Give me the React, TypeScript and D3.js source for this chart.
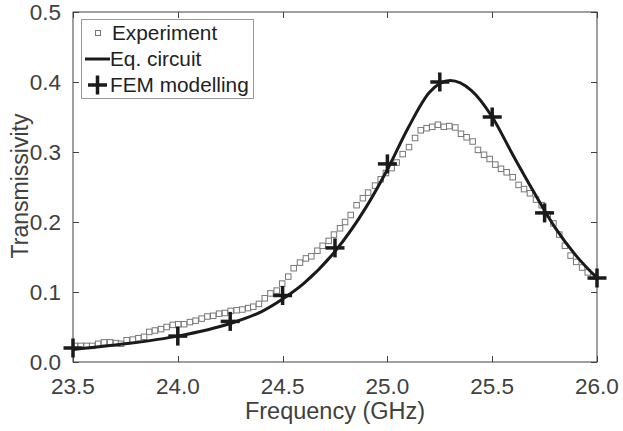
import React, { useEffect, useRef } from "react";
import * as d3 from "d3";

const expFreq = [
  23.510, 23.537, 23.565, 23.592, 23.620, 23.648, 23.677, 23.705, 23.729, 23.756,
  23.785, 23.812, 23.839, 23.864, 23.891, 23.920, 23.947, 23.976, 24.002, 24.030,
  24.058, 24.085, 24.114, 24.141, 24.169, 24.197, 24.225, 24.252, 24.281, 24.308,
  24.336, 24.360, 24.387, 24.415, 24.442, 24.472, 24.498, 24.527, 24.553, 24.583,
  24.611, 24.637, 24.666, 24.691, 24.720, 24.745, 24.774, 24.798, 24.825, 24.853,
  24.883, 24.908, 24.941, 24.968, 24.993, 25.020, 25.044, 25.073, 25.103, 25.132,
  25.159, 25.187, 25.214, 25.241, 25.269, 25.295, 25.324, 25.351, 25.378, 25.407,
  25.432, 25.461, 25.488, 25.515, 25.542, 25.569, 25.598, 25.626, 25.652, 25.680,
  25.709, 25.736, 25.765, 25.792, 25.820, 25.847, 25.874, 25.901, 25.929, 25.956,
  25.983,
];
const expVal = [
  0.023, 0.023, 0.023, 0.023, 0.026, 0.028, 0.028, 0.027, 0.026, 0.031,
  0.032, 0.034, 0.036, 0.043, 0.045, 0.047, 0.050, 0.053, 0.054, 0.054,
  0.057, 0.059, 0.062, 0.065, 0.066, 0.069, 0.070, 0.073, 0.074, 0.075,
  0.077, 0.079, 0.083, 0.091, 0.098, 0.102, 0.112, 0.122, 0.134, 0.142,
  0.148, 0.151, 0.159, 0.166, 0.173, 0.182, 0.191, 0.200, 0.210, 0.224,
  0.234, 0.242, 0.252, 0.261, 0.270, 0.277, 0.285, 0.297, 0.307, 0.320,
  0.331, 0.334, 0.336, 0.339, 0.336, 0.337, 0.335, 0.326, 0.321, 0.315,
  0.303, 0.296, 0.290, 0.282, 0.276, 0.271, 0.264, 0.253, 0.247, 0.241,
  0.232, 0.224, 0.211, 0.198, 0.182, 0.166, 0.152, 0.143, 0.135, 0.128,
  0.122,
];

const circFreq = [23.5, 23.75, 24.0, 24.25, 24.4, 24.5, 24.6, 24.75, 24.9, 25.0, 25.1, 25.2, 25.3, 25.4, 25.5, 25.6, 25.7, 25.8, 25.9, 26.0];
const circVal = [0.018, 0.026, 0.037, 0.055, 0.072, 0.090, 0.112, 0.158, 0.222, 0.275, 0.335, 0.385, 0.402, 0.388, 0.350, 0.295, 0.242, 0.192, 0.152, 0.120];

const femFreq = [23.5, 24.0, 24.25, 24.5, 24.75, 25.0, 25.25, 25.5, 25.75, 26.0];
const femVal = [0.020, 0.037, 0.058, 0.095, 0.163, 0.283, 0.400, 0.350, 0.213, 0.120];

const xTicks = [23.5, 24.0, 24.5, 25.0, 25.5, 26.0];
const yTicks = [0.0, 0.1, 0.2, 0.3, 0.4, 0.5];

const legendLabels = ["Experiment", "Eq. circuit", "FEM modelling"];

const W = 623;
const H = 431;
const M = { left: 73, right: 597, top: 12, bottom: 362 };
const TXT = "#404040";
const FONT = "'Liberation Sans', Arial, Helvetica, sans-serif";

export default function App() {
  const ref = useRef<SVGSVGElement | null>(null);

  useEffect(() => {
    const svg = d3.select(ref.current);
    svg.selectAll("*").remove();

    const x = d3.scaleLinear().domain([23.5, 26.0]).range([M.left, M.right]);
    const y = d3.scaleLinear().domain([0, 0.5]).range([M.bottom, M.top]);

    svg.append("rect").attr("width", W).attr("height", H).attr("fill", "#fff");

    const tickLen = 6;
    const axes = svg.append("g").attr("stroke", TXT).attr("stroke-width", 1).attr("fill", "none");
    axes.append("rect")
      .attr("x", M.left).attr("y", M.top)
      .attr("width", M.right - M.left).attr("height", M.bottom - M.top);
    xTicks.forEach((t) => {
      const px = Math.round(x(t)) + 0.5;
      axes.append("line").attr("x1", px).attr("x2", px).attr("y1", M.bottom).attr("y2", M.bottom - tickLen);
      axes.append("line").attr("x1", px).attr("x2", px).attr("y1", M.top).attr("y2", M.top + tickLen);
    });
    yTicks.forEach((t) => {
      const py = Math.round(y(t)) + 0.5;
      axes.append("line").attr("x1", M.left).attr("x2", M.left + tickLen).attr("y1", py).attr("y2", py);
      axes.append("line").attr("x1", M.right).attr("x2", M.right - tickLen).attr("y1", py).attr("y2", py);
    });

    const labels = svg.append("g").attr("fill", TXT).attr("font-family", FONT);
    xTicks.forEach((t) => {
      labels.append("text")
        .attr("x", x(t)).attr("y", 394)
        .attr("text-anchor", "middle").attr("font-size", 22.5)
        .text(d3.format(".1f")(t));
    });
    yTicks.forEach((t) => {
      labels.append("text")
        .attr("x", M.left - 12).attr("y", y(t) + 8)
        .attr("text-anchor", "end").attr("font-size", 22.5)
        .text(d3.format(".1f")(t));
    });
    labels.append("text")
      .attr("x", 335).attr("y", 419)
      .attr("text-anchor", "middle").attr("font-size", 23.5)
      .text("Frequency (GHz)");
    labels.append("text")
      .attr("transform", `translate(28, 186) rotate(-90)`)
      .attr("text-anchor", "middle").attr("font-size", 23)
      .text("Transmissivity");

    const plot = svg.append("g");

    // Experiment squares
    const sq = 5.5;
    plot.append("g").selectAll("rect")
      .data(expFreq.map((f, i) => [f, expVal[i]]))
      .join("rect")
      .attr("x", (d) => x(d[0]) - sq / 2)
      .attr("y", (d) => y(d[1]) - sq / 2)
      .attr("width", sq).attr("height", sq)
      .attr("fill", "#fff").attr("stroke", "#777").attr("stroke-width", 1);

    // Eq. circuit line
    const line = d3.line<[number, number]>()
      .x((d) => x(d[0])).y((d) => y(d[1]))
      .curve(d3.curveMonotoneX);
    plot.append("path")
      .datum(circFreq.map((f, i) => [f, circVal[i]] as [number, number]))
      .attr("d", line)
      .attr("fill", "none").attr("stroke", "#1a1a1a").attr("stroke-width", 3);

    // FEM crosses
    const cs = 9.5;
    const cross = plot.append("g").attr("stroke", "#1a1a1a").attr("stroke-width", 3.5);
    femFreq.forEach((f, i) => {
      const cx = x(f), cy = y(femVal[i]);
      cross.append("line").attr("x1", cx - cs).attr("x2", cx + cs).attr("y1", cy).attr("y2", cy);
      cross.append("line").attr("x1", cx).attr("x2", cx).attr("y1", cy - cs).attr("y2", cy + cs);
    });

    // Legend
    const lg = svg.append("g");
    lg.append("rect")
      .attr("x", 81.5).attr("y", 19.5).attr("width", 172).attr("height", 79)
      .attr("fill", "#fff").attr("stroke", "#999").attr("stroke-width", 1);
    const rowsY = [33, 59, 85];
    lg.append("rect")
      .attr("x", 98 - 2.5).attr("y", rowsY[0] - 2.5).attr("width", 5).attr("height", 5)
      .attr("fill", "#fff").attr("stroke", "#777").attr("stroke-width", 1);
    lg.append("line")
      .attr("x1", 85).attr("x2", 110).attr("y1", rowsY[1]).attr("y2", rowsY[1])
      .attr("stroke", "#1a1a1a").attr("stroke-width", 3);
    lg.append("line").attr("x1", 88).attr("x2", 107).attr("y1", rowsY[2]).attr("y2", rowsY[2])
      .attr("stroke", "#1a1a1a").attr("stroke-width", 3.5);
    lg.append("line").attr("x1", 97.5).attr("x2", 97.5).attr("y1", rowsY[2] - 9.5).attr("y2", rowsY[2] + 9.5)
      .attr("stroke", "#1a1a1a").attr("stroke-width", 3.5);
    const textX = [112, 110, 110];
    legendLabels.forEach((l, i) => {
      lg.append("text")
        .attr("x", textX[i]).attr("y", rowsY[i] + 7)
        .attr("font-family", FONT).attr("font-size", 20.8).attr("fill", "#222")
        .text(l);
    });
  }, []);

  return (
    <svg
      ref={ref}
      width={W}
      height={H}
      style={{ position: "absolute", left: 0, top: 0, display: "block" }}
    />
  );
}
